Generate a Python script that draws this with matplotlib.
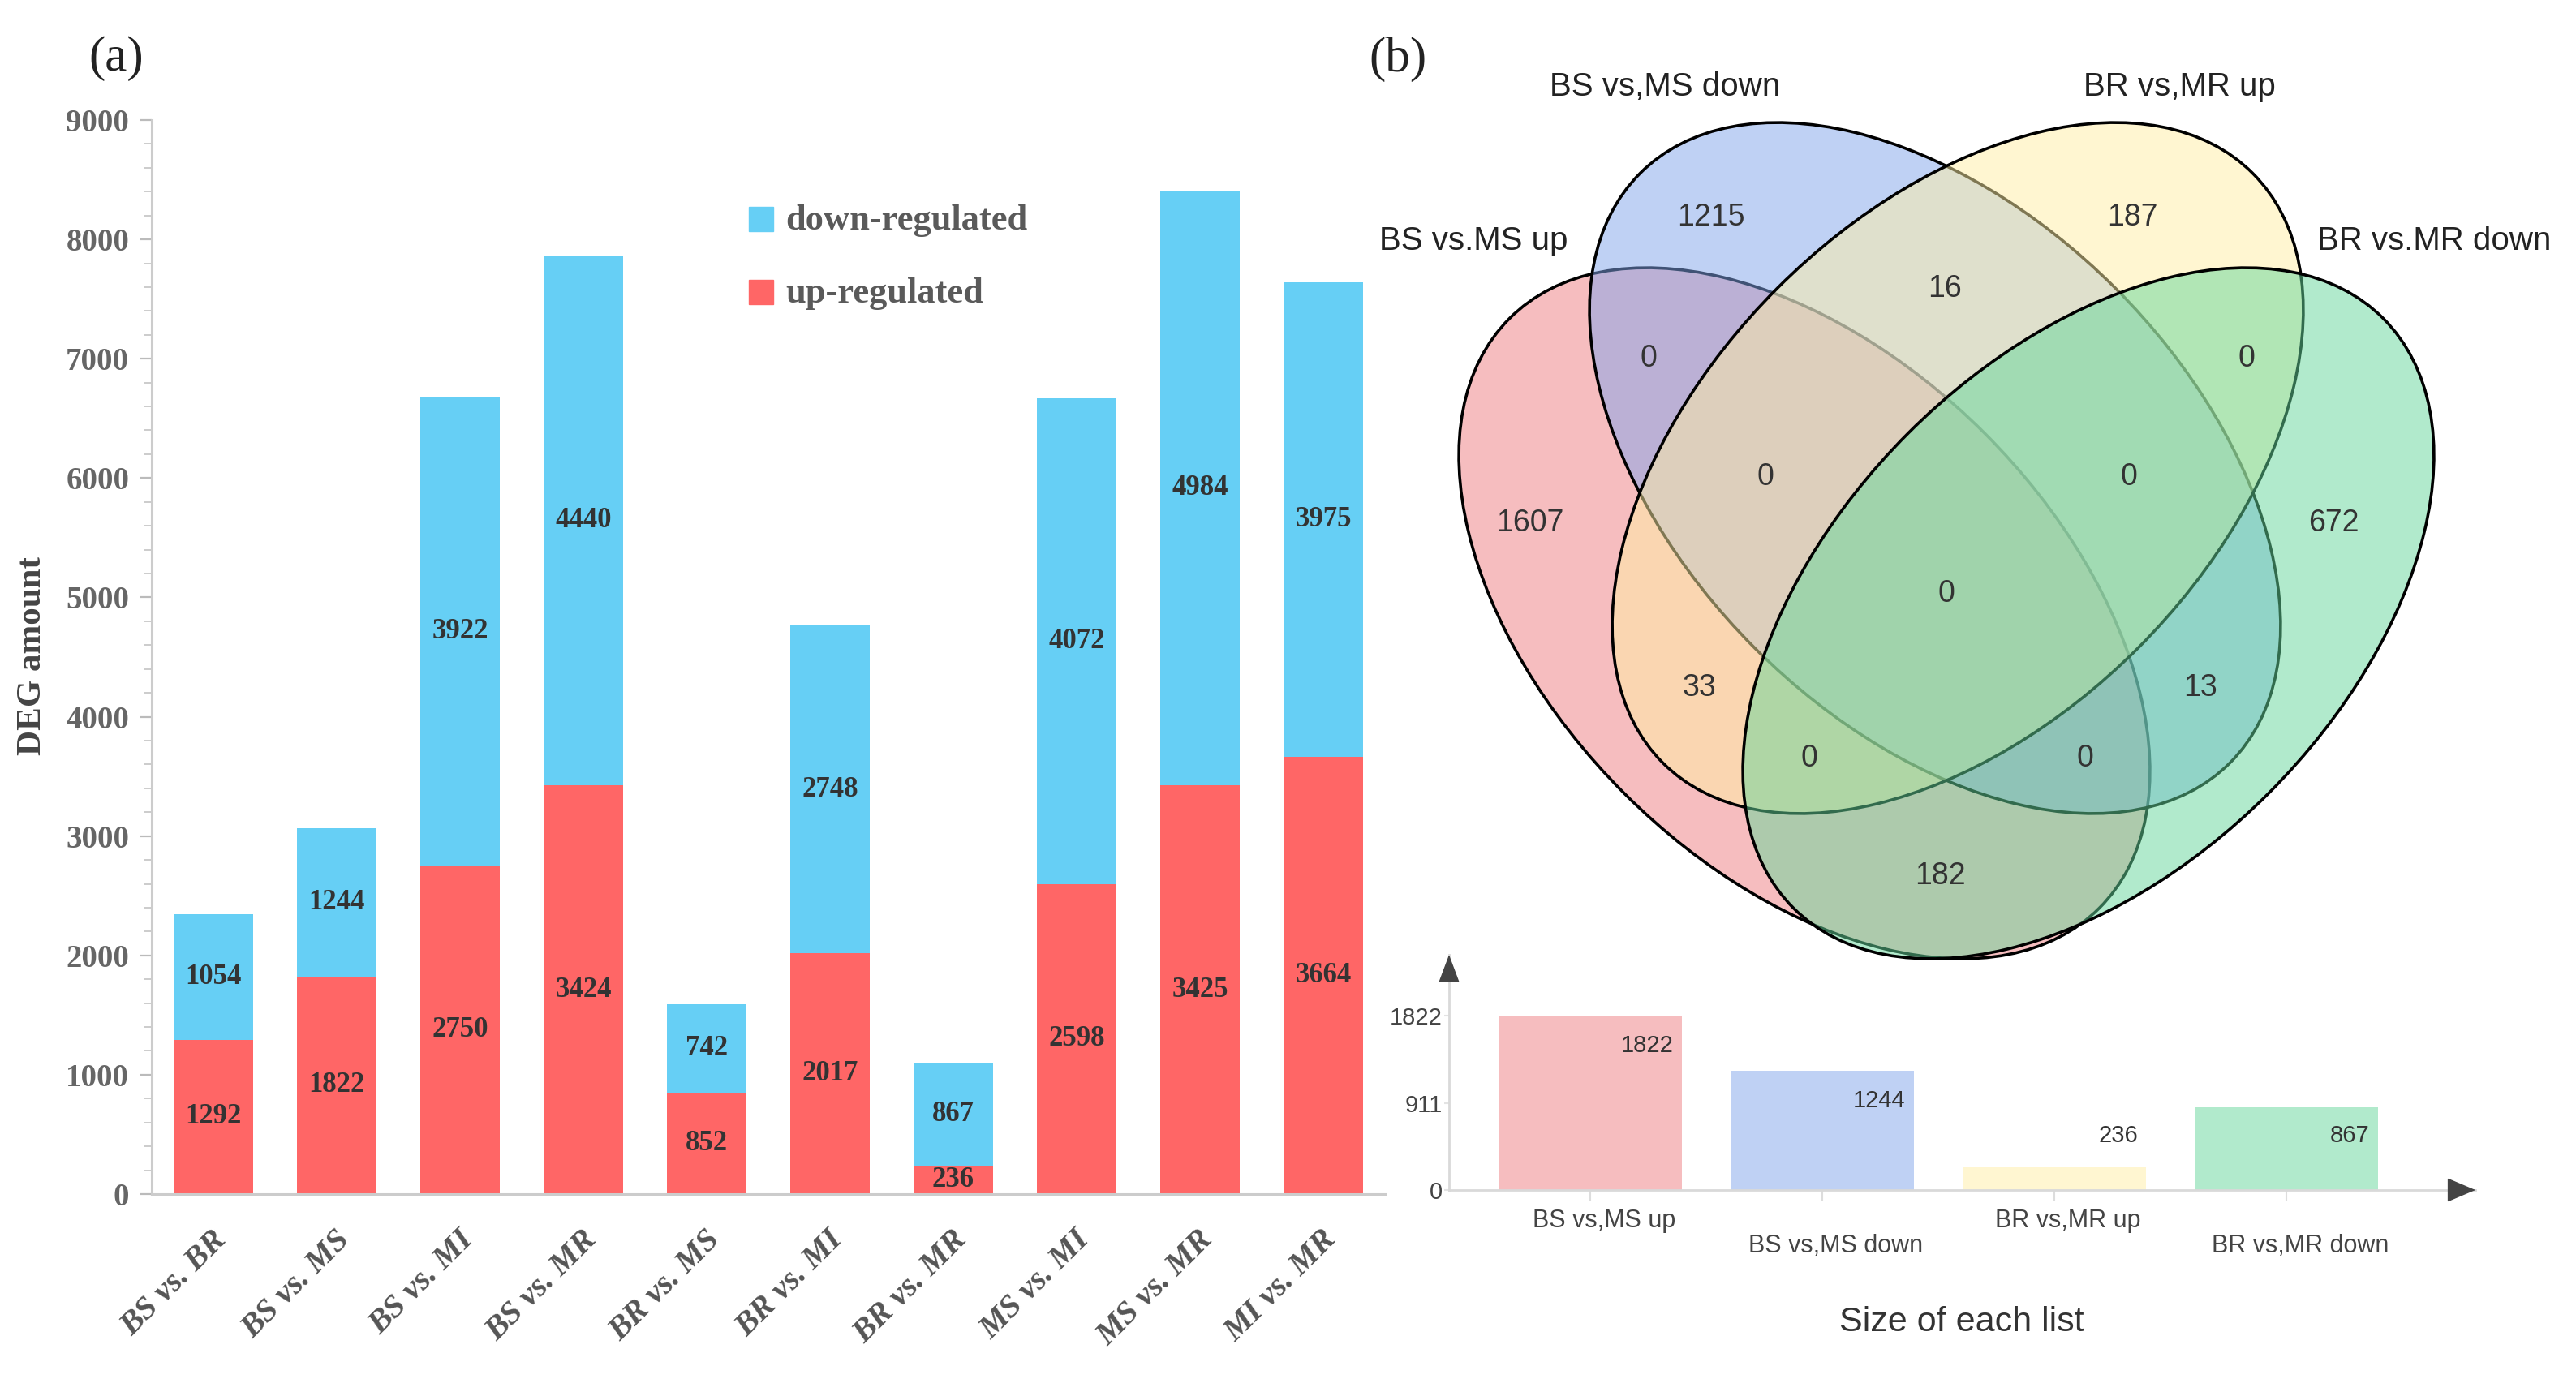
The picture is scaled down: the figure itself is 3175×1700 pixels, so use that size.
import matplotlib
matplotlib.use("Agg")
import matplotlib.pyplot as plt
from matplotlib.patches import Ellipse, Rectangle
import matplotlib.transforms as mtransforms
import numpy as np

# ---------------- data ----------------
categories = ['BS vs. BR', 'BS vs. MS', 'BS vs. MI', 'BS vs. MR', 'BR vs. MS',
              'BR vs. MI', 'BR vs. MR', 'MS vs. MI', 'MS vs. MR', 'MI vs. MR']
up_regulated = [1292, 1822, 2750, 3424, 852, 2017, 236, 2598, 3425, 3664]
down_regulated = [1054, 1244, 3922, 4440, 742, 2748, 867, 4072, 4984, 3975]
legend_labels = ['down-regulated', 'up-regulated']

venn_set_names = ['BS vs.MS up', 'BS vs,MS down', 'BR vs,MR up', 'BR vs.MR down']
# region counts
venn_regions = {
    'P': 1607, 'B': 1215, 'Y': 187, 'G': 672,
    'PB': 0, 'BY': 16, 'YG': 0, 'PY': 33, 'BG': 13, 'PG': 182,
    'PBY': 0, 'BYG': 0, 'PYG': 0, 'PBG': 0, 'PBYG': 0,
}
list_names = ['BS vs,MS up', 'BS vs,MS down', 'BR vs,MR up', 'BR vs,MR down']
list_sizes = [1822, 1244, 236, 867]
list_ticks = [0, 911, 1822]

# ---------------- figure ----------------
W, H = 3175, 1700
fig = plt.figure(figsize=(W / 100, H / 100), dpi=100)
SERIF = 'Liberation Serif'
SANS = 'Liberation Sans'

def fx(px):
    return px / W

def fy(py):
    return 1 - py / H

# overlay axes in pixel units (for Venn layout)
ov = fig.add_axes([0, 0, 1, 1], zorder=0)
ov.set_xlim(0, W)
ov.set_ylim(H, 0)
ov.axis('off')

# ---------------- panel (a) ----------------
ax = fig.add_axes([fx(187), fy(1472), fx(1707 - 187), (1472 - 148) / H], zorder=2)
x = np.arange(len(categories))
bw = 0.64
red = '#FF6666'
blue = '#66CFF5'
ax.bar(x, up_regulated, bw, color=red, zorder=2)
ax.bar(x, down_regulated, bw, bottom=up_regulated, color=blue, zorder=2)
ax.set_xlim(-0.5, 9.5)
ax.set_ylim(0, 9000)
for s in ['top', 'right']:
    ax.spines[s].set_visible(False)
for s in ['left', 'bottom']:
    ax.spines[s].set_color('#CCCCCC')
    ax.spines[s].set_linewidth(2.2)
ax.set_yticks(np.arange(0, 9001, 1000))
ax.set_yticks(np.arange(0, 9001, 200), minor=True)
ax.tick_params(axis='y', which='major', length=11, width=1.6, color='#BBBBBB',
               pad=9, labelsize=28, labelcolor='#666666')
ax.tick_params(axis='y', which='minor', length=6.5, width=1.4, color='#CCCCCC')
for lab in ax.get_yticklabels():
    lab.set_fontfamily(SERIF)
    lab.set_fontweight('bold')
ax.set_xticks([])
ax.patch.set_alpha(0)

for i in range(len(categories)):
    u, d = up_regulated[i], down_regulated[i]
    ax.text(i, u / 2, str(u), ha='center', va='center', fontsize=25,
            fontweight='bold', family=SERIF, color='#333333', zorder=3)
    ax.text(i, u + d / 2, str(d), ha='center', va='center', fontsize=25,
            fontweight='bold', family=SERIF, color='#333333', zorder=3)

trans = mtransforms.blended_transform_factory(ax.transData, ax.transAxes)
for i, c in enumerate(categories):
    ax.text(i + 0.07, -0.0385, c, transform=trans, rotation=45,
            rotation_mode='anchor', ha='right', va='center', fontsize=29,
            fontweight='bold', fontstyle='italic', family=SERIF, color='#555555')

fig.text(fx(40), fy(809), 'DEG amount', rotation=90, ha='center', va='center',
         fontsize=31, fontweight='bold', family=SERIF, color='#444444')

# legend
for k, (lab, col) in enumerate(zip(legend_labels, [blue, red])):
    yc = 270 + 90 * k
    fig.patches.append(Rectangle((fx(923), fy(yc + 15)), fx(30), 30 / H,
                                 transform=fig.transFigure, color=col))
    fig.text(fx(968), fy(yc + 2), lab, ha='left', va='center', fontsize=32,
             fontweight='bold', family=SERIF, color='#5A5A5A')

fig.text(fx(143), fy(72), '(a)', ha='center', va='center', fontsize=44,
         family=SERIF, color='#222222')
fig.text(fx(1723), fy(73), '(b)', ha='center', va='center', fontsize=44,
         family=SERIF, color='#222222')

# ---------------- panel (b) Venn ----------------
Xc = 2399
ea, eb = 514, 314
venn_cols = ['#EF7D81', '#81A5EB', '#FFEFA5', '#65D79B']
ellipses = [((Xc - 175, 756), 45), ((Xc - 14, 577), 45),
            ((Xc + 14, 577), -45), ((Xc + 175, 756), -45)]
for (cxy, ang), col in zip(ellipses, venn_cols):
    rgba = matplotlib.colors.to_rgba(col, 0.5)
    ov.add_patch(Ellipse(cxy, 2 * ea, 2 * eb, angle=ang, facecolor=rgba,
                         edgecolor='black', linewidth=2.6, zorder=1))

region_pos = {
    'P': (1886, 645), 'B': (2109, 268), 'Y': (2628, 268), 'G': (2876, 645),
    'PB': (2032, 442), 'BY': (2397, 356), 'YG': (2769, 442), 'PY': (2094, 848),
    'BG': (2712, 848), 'PG': (2391, 1080), 'PBY': (2176, 588),
    'BYG': (2624, 588), 'PYG': (2230, 935), 'PBG': (2570, 935), 'PBYG': (2399, 732),
}
for key, val in venn_regions.items():
    px, py = region_pos[key]
    ov.text(px, py, str(val), ha='center', va='center', fontsize=27,
            family=SANS, color='#333333', zorder=3)

set_label_pos = [(1816, 297), (2052, 107), (2686, 107), (3000, 297)]
for name, (px, py) in zip(venn_set_names, set_label_pos):
    ov.text(px, py, name, ha='center', va='center', fontsize=29,
            family=SANS, color='#222222', zorder=3)

# ---------------- panel (b) list-size bar chart ----------------
ax2 = fig.add_axes([fx(1786), fy(1467), fx(3051 - 1786), (1467 - 1177) / H], zorder=2)
ax2.patch.set_alpha(0)
xs = np.arange(len(list_names))
bar_cols = [matplotlib.colors.to_rgba(c, 0.5) for c in venn_cols]
ax2.bar(xs, list_sizes, 0.79, color=bar_cols, zorder=2)
ymax = max(list_sizes) * 1.349
ax2.set_xlim(-0.608, 3.815)
ax2.set_ylim(0, ymax)
for s in ['top', 'right']:
    ax2.spines[s].set_visible(False)
for s in ['left', 'bottom']:
    ax2.spines[s].set_color('#D9D9D9')
    ax2.spines[s].set_linewidth(2.0)
ax2.set_yticks(list_ticks)
ax2.set_yticklabels([str(t) for t in list_ticks])
ax2.tick_params(axis='y', length=4, width=1.5, color='#E3E3E3', pad=2,
                labelsize=21, labelcolor='#444444')
for lab in ax2.get_yticklabels():
    lab.set_fontfamily(SANS)
ax2.set_xticks(xs)
ax2.set_xticklabels([])
ax2.tick_params(axis='x', length=10, width=1.5, color='#DDDDDD')

trans2 = mtransforms.blended_transform_factory(ax2.transData, ax2.transAxes)
for i, name in enumerate(list_names):
    yy = -0.131 if i % 2 == 0 else -0.238
    ax2.text(i + 0.06, yy, name, transform=trans2, ha='center', va='center',
             fontsize=22, family=SANS, color='#444444')
for i, v in enumerate(list_sizes):
    ly = max(v - 0.172 * max(list_sizes), 0.31 * max(list_sizes))
    ax2.text(i + 0.36, ly, str(v), ha='right', va='center', fontsize=21,
             family=SANS, color='#333333', zorder=3)

# arrow heads
ax2.annotate('', xy=(0, 1), xytext=(0, 1 - 31 / 290), xycoords='axes fraction',
             arrowprops=dict(arrowstyle='-|>,head_length=0.4,head_width=0.15',
                             mutation_scale=56, color='#444444', lw=1,
                             shrinkA=0, shrinkB=0), annotation_clip=False)
ax2.annotate('', xy=(1, 0), xytext=(1 - 32 / 1265, 0), xycoords='axes fraction',
             arrowprops=dict(arrowstyle='-|>,head_length=0.4,head_width=0.17',
                             mutation_scale=57, color='#444444', lw=1,
                             shrinkA=0, shrinkB=0), annotation_clip=False)

fig.text(fx(2418), fy(1630), 'Size of each list', ha='center', va='center',
         fontsize=31, family=SANS, color='#333333')

fig.savefig('out.png', dpi=100, facecolor='white')
